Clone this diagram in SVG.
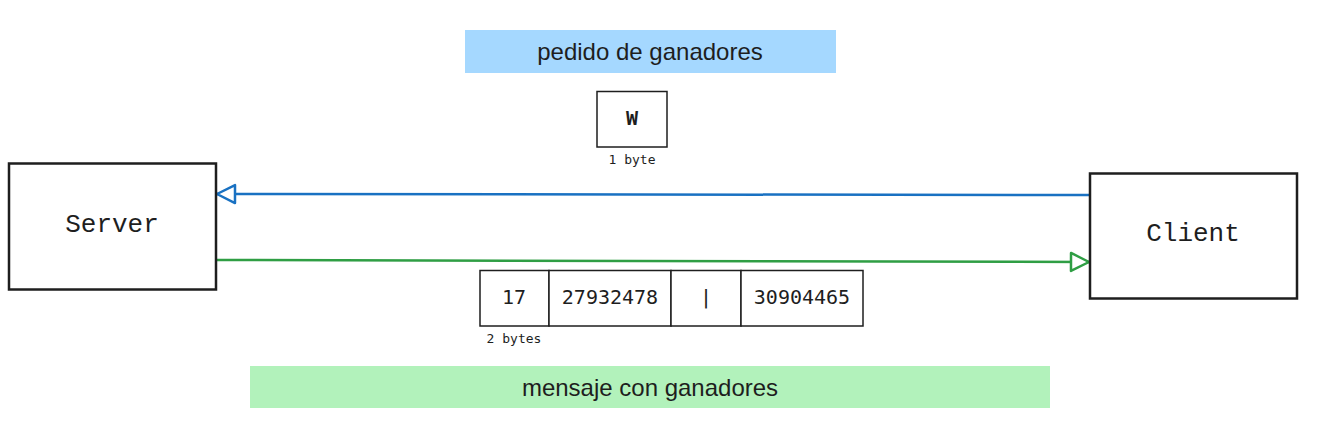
<svg xmlns="http://www.w3.org/2000/svg" width="1321" height="437" viewBox="0 0 1321 437">
<style>
.box{fill:#ffffff;stroke:#1e1e1e;stroke-width:2.5}
.cell{fill:#ffffff;stroke:#1e1e1e;stroke-width:1.5}
.hand{font-family:"Liberation Sans",Arial,sans-serif;fill:#1e1e1e;text-anchor:middle;dominant-baseline:central}
.mono{font-family:"Liberation Mono","DejaVu Sans Mono",monospace;fill:#1e1e1e;text-anchor:middle;dominant-baseline:central}
.code{font-family:"DejaVu Sans Mono","Liberation Mono",monospace;fill:#1e1e1e;text-anchor:middle;dominant-baseline:central}
.conn{fill:none;stroke-width:2.5;stroke-linecap:round}
</style>
<defs>
<marker id="hb" markerUnits="userSpaceOnUse" markerWidth="26" markerHeight="26" refX="21" refY="12" orient="auto" overflow="visible">
<path d="M3,3 L21,12 L3,21 Z" fill="#ffffff" stroke="#1971c2" stroke-width="2.5" stroke-linejoin="round"/>
</marker>
<marker id="hg" markerUnits="userSpaceOnUse" markerWidth="26" markerHeight="26" refX="21" refY="12" orient="auto" overflow="visible">
<path d="M3,3 L21,12 L3,21 Z" fill="#ffffff" stroke="#2f9e44" stroke-width="2.5" stroke-linejoin="round"/>
</marker>
</defs>
<rect width="1321" height="437" fill="#ffffff"/>
<g id="label-pedido">
<rect x="465" y="30" width="371" height="43" fill="#a5d8ff"/>
<text class="hand" x="650" y="51" font-size="24">pedido de ganadores</text>
</g>
<g id="label-mensaje">
<rect x="250" y="366" width="800" height="42" fill="#b2f2bb"/>
<text class="hand" x="650" y="387" font-size="24">mensaje con ganadores</text>
</g>
<g id="connectors">
<path class="conn" stroke="#1971c2" d="M1090,195 L217,194" marker-end="url(#hb)"/>
<path class="conn" stroke="#2f9e44" d="M217,260 L1089,262" marker-end="url(#hg)"/>
</g>
<g id="server">
<rect class="box" x="9" y="163.5" width="207" height="126"/>
<text class="mono" x="112" y="225" font-size="26">Server</text>
</g>
<g id="client">
<rect class="box" x="1090" y="173.5" width="207" height="125"/>
<text class="mono" x="1193" y="234" font-size="26">Client</text>
</g>
<g id="byte-w">
<rect class="cell" x="597" y="91.5" width="70" height="55.5"/>
<text class="code" x="632" y="118" font-size="20" font-weight="bold">W</text>
<text class="code" x="632" y="159" font-size="13">1 byte</text>
</g>
<g id="cell-17">
<rect class="cell" x="480" y="270.5" width="69" height="55.5"/>
<text class="code" x="514" y="297" font-size="20">17</text>
<text class="code" x="514" y="338" font-size="13">2 bytes</text>
</g>
<g id="cell-27932478">
<rect class="cell" x="549" y="270.5" width="122" height="55.5"/>
<text class="code" x="610" y="297" font-size="20">27932478</text>
</g>
<g id="cell-sep">
<rect class="cell" x="671" y="270.5" width="70" height="55.5"/>
<text class="code" x="706" y="297" font-size="20">|</text>
</g>
<g id="cell-30904465">
<rect class="cell" x="741" y="270.5" width="122" height="55.5"/>
<text class="code" x="802" y="297" font-size="20">30904465</text>
</g>
</svg>
